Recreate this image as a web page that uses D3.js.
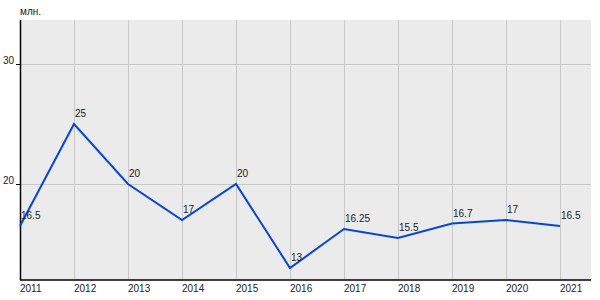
<!DOCTYPE html>
<html>
<head>
<meta charset="utf-8">
<script src="https://cdn.jsdelivr.net/npm/d3@7"></script>
<style>
  body { margin: 0; background: #fff; }
  text { font-family: "Liberation Sans", Arial, sans-serif; fill: #222; }
</style>
</head>
<body>
<div id="chart"></div>
<script>
const years = [2011, 2012, 2013, 2014, 2015, 2016, 2017, 2018, 2019, 2020, 2021];
const values = [16.5, 25, 20, 17, 20, 13, 16.25, 15.5, 16.7, 17, 16.5];
const labels = ["16.5", "25", "20", "17", "20", "13", "16.25", "15.5", "16.7", "17", "16.5"];
const yTicks = [20, 30];
const unit = "млн.";

const svg = d3.select("#chart").append("svg")
    .attr("width", 600)
    .attr("height", 300);

// plot box
const plotLeft = 20, plotRight = 591, plotTop = 20, plotBottom = 280;

const x = d3.scaleLinear().domain([2011, 2021]).range([plotLeft, 560]);
const y = d3.scaleLinear().domain([12, 30]).range([plotBottom, 64]);

svg.append("rect")
    .attr("x", plotLeft).attr("y", plotTop)
    .attr("width", plotRight - plotLeft).attr("height", plotBottom - plotTop)
    .style("fill", "#ebebeb");

// grid
svg.selectAll(".vgrid").data(years).enter().append("line")
    .attr("x1", d => x(d) + 0.5).attr("x2", d => x(d) + 0.5)
    .attr("y1", plotTop).attr("y2", plotBottom)
    .style("stroke", "#c8c8c8").style("stroke-width", 1);

svg.selectAll(".hgrid").data(yTicks).enter().append("line")
    .attr("x1", plotLeft).attr("x2", plotRight)
    .attr("y1", d => y(d) + 0.5).attr("y2", d => y(d) + 0.5)
    .style("stroke", "#c8c8c8").style("stroke-width", 1);

// axes
svg.append("line")
    .attr("x1", plotLeft + 0.5).attr("x2", plotLeft + 0.5)
    .attr("y1", plotTop).attr("y2", plotBottom)
    .style("stroke", "black").style("stroke-width", 1.5);
svg.append("line")
    .attr("x1", plotLeft).attr("x2", plotRight)
    .attr("y1", plotBottom).attr("y2", plotBottom)
    .style("stroke", "black").style("stroke-width", 1.5);

// y ticks
svg.selectAll(".ytick").data(yTicks).enter().append("line")
    .attr("x1", 16).attr("x2", plotLeft)
    .attr("y1", d => y(d) + 0.5).attr("y2", d => y(d) + 0.5)
    .style("stroke", "black");
svg.selectAll(".ylab").data(yTicks).enter().append("text")
    .attr("x", 14).attr("y", d => y(d))
    .attr("text-anchor", "end")
    .style("font-size", "10px")
    .text(d => d);

// x labels
svg.selectAll(".xlab").data(years).enter().append("text")
    .attr("x", d => x(d)).attr("y", 292)
    .style("font-size", "10px")
    .text(d => d);

svg.append("text")
    .attr("x", 20).attr("y", 15)
    .style("font-size", "10px")
    .text(unit);

// line
const line = d3.line()
    .x((d, i) => x(years[i]))
    .y(d => y(d));

svg.append("path")
    .datum(values)
    .attr("d", line)
    .style("fill", "none")
    .style("stroke", "#0047e0")
    .style("stroke-width", 2);

svg.selectAll(".vlab").data(values).enter().append("text")
    .attr("x", (d, i) => x(years[i]) + 1)
    .attr("y", d => y(d) - 7)
    .style("font-size", "10px")
    .text((d, i) => labels[i]);
</script>
</body>
</html>
